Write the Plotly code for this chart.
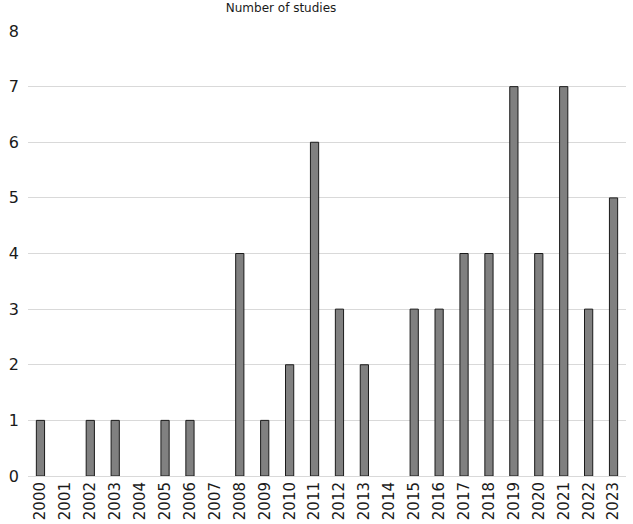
import plotly.graph_objects as go

# Studies per year
years = [str(y) for y in range(2000, 2024)]
counts = [1, 0, 1, 1, 0, 1, 1, 0, 4, 1, 2, 6, 3, 2, 0, 3, 3, 4, 4, 7, 4, 7, 3, 5]
y_ticks = list(range(0, 9))

fig = go.Figure()

fig.add_trace(go.Bar(
    x=years,
    y=counts,
    marker=dict(
        color='#808080',
        line=dict(color='#1a1a1a', width=[1 if c > 0 else 0 for c in counts]),
    ),
    showlegend=False
))

fig.update_layout(
    width=633,
    height=524,
    margin=dict(l=28, r=7, t=31, b=48),
    paper_bgcolor='white',
    plot_bgcolor='white',
    bargap=0.67,
    font=dict(family="DejaVu Sans, Verdana, sans-serif", color='#1a1a1a'),
    title=dict(text="Number of studies", x=0.444, xanchor='center', y=0.993, yanchor='top',
               font=dict(size=12)),
    xaxis=dict(
        type='category',
        tickangle=-90,
        tickfont=dict(size=15),
        showgrid=False,
        showline=False,
        ticks='',
        ticklabelstandoff=2,
        automargin=False,
    ),
    yaxis=dict(
        range=[0, 8],
        tickvals=y_ticks,
        tickfont=dict(size=16),
        showgrid=True,
        gridcolor='#d9d9d9',
        gridwidth=1,
        zeroline=True,
        zerolinecolor='#d9d9d9',
        zerolinewidth=1,
        showline=False,
        ticks='',
        ticklabelstandoff=8,
        automargin=False,
    ),
)

fig.write_html("out.html", config={"displayModeBar": False},
               post_script="document.body.style.margin='0';")
